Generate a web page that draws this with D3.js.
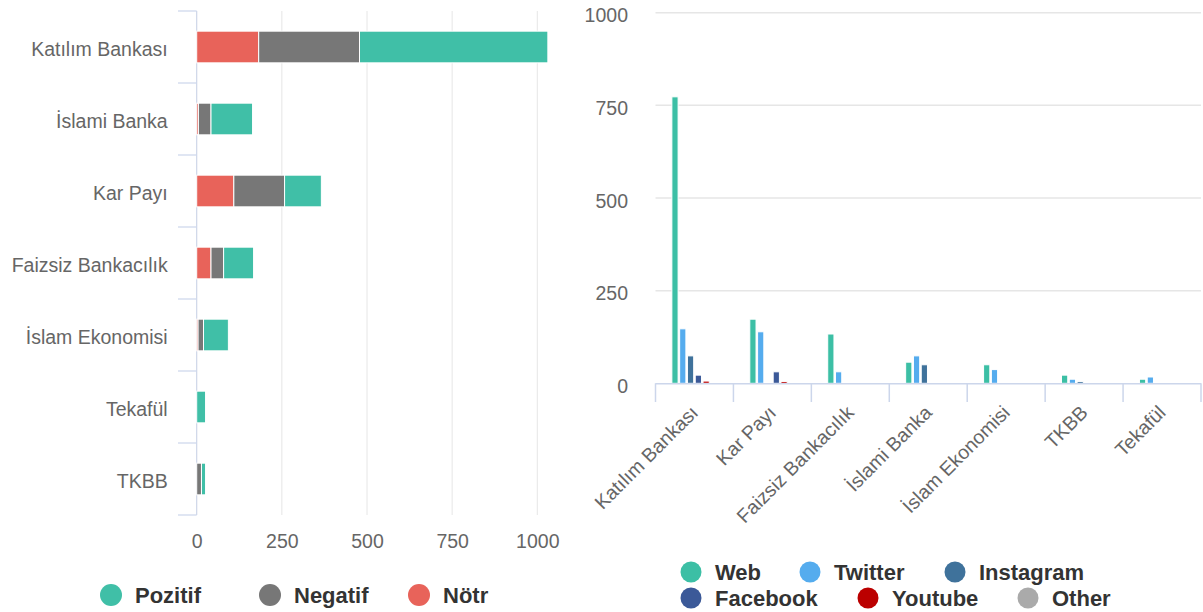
<!DOCTYPE html>
<html>
<head>
<meta charset="utf-8">
<script src="https://cdn.jsdelivr.net/npm/d3@7"></script>
<style>
  body{margin:0;background:#fff;}
  svg{display:block;font-family:"Liberation Sans",Arial,sans-serif;}
</style>
</head>
<body>
<svg id="chart" width="1203" height="612"></svg>
<script>
// left chart: sentiment per keyword
var leftCats = ["Katılım Bankası","İslami Banka","Kar Payı","Faizsiz Bankacılık","İslam Ekonomisi","Tekafül","TKBB"];
var pozitif = [553,122,108,88,73,26,12];
var negatif = [296,37,149,37,16,0,14];
var notr    = [182,5,109,42,4,0,0];
var leftTicks = [0,250,500,750,1000];

// right chart: source per keyword
var rightCats = ["Katılım Bankası","Kar Payı","Faizsiz Bankacılık","İslami Banka","İslam Ekonomisi","TKBB","Tekafül"];
var web       = [773,173,133,57,50,22,11];
var twitter   = [147,139,31,74,37,11,17];
var instagram = [74,0,0,50,0,5,0];
var facebook  = [22,31,0,0,0,0,0];
var youtube   = [6,5,0,0,0,0,0];
var other     = [0,0,0,0,0,0,0];
var rightTicks = [0,250,500,750,1000];

var svg = d3.select("#chart");
var gridCol = "#e6e6e6", axisCol = "#ccd6eb", labCol = "#666666";
var fsAxis = "19.5px", fsLeg = "22px";
var fmt = d3.format("d");

//---------------- left chart ----------------
var L = svg.append("g");
var lx = d3.scaleLinear().domain([0,1000]).range([196.7,537.3]);
var ly = d3.scaleBand().domain(leftCats).range([11,515]).paddingInner(0.56).paddingOuter(0.28);
var step = ly.step();

// vertical grid
L.selectAll("line.grid").data(leftTicks).enter().append("line")
  .attr("x1",function(d){return lx(d)}).attr("x2",function(d){return lx(d)})
  .attr("y1",11).attr("y2",515)
  .attr("stroke",gridCol).attr("stroke-width",1);

// value axis labels
var lxa = d3.axisBottom(lx).tickValues(leftTicks).tickFormat(fmt).tickSize(0).tickPadding(0);
L.append("g").attr("transform","translate(0,548)").call(lxa)
  .call(function(g){g.select(".domain").remove();})
  .selectAll("text").style("font-size",fsAxis).attr("fill",labCol).attr("dy","0");

// category axis
var lya = d3.axisLeft(ly).tickSize(0).tickPadding(29);
L.append("g").attr("transform","translate(196.7,3)").call(lya)
  .call(function(g){g.select(".domain").remove();})
  .selectAll("text").style("font-size",fsAxis).attr("fill",labCol);
L.append("line").attr("x1",196.7).attr("x2",196.7).attr("y1",11).attr("y2",515)
  .attr("stroke",axisCol).attr("stroke-width",1);
L.selectAll("line.ctick").data(d3.range(leftCats.length+1)).enter().append("line")
  .attr("x1",178).attr("x2",196.7)
  .attr("y1",function(i){return 11+i*step}).attr("y2",function(i){return 11+i*step})
  .attr("stroke",axisCol).attr("stroke-width",1.2);

// stacked bars (Nötr nearest zero)
var leftSeries = [
  {name:"Nötr", vals:notr, col:"#e8635a"},
  {name:"Negatif", vals:negatif, col:"#777777"},
  {name:"Pozitif", vals:pozitif, col:"#40bfa7"}
];
leftCats.forEach(function(c,i){
  var acc = 0;
  leftSeries.forEach(function(s){
    var v = s.vals[i];
    if(v>0){
      L.append("rect")
        .attr("x",lx(acc)).attr("width",lx(acc+v)-lx(acc))
        .attr("y",ly(c)).attr("height",ly.bandwidth())
        .attr("fill",s.col).attr("stroke","#fff").attr("stroke-width",1);
    }
    acc += v;
  });
});

// left legend
var leftLegend = [
  {name:"Pozitif", col:"#40bfa7", x:111},
  {name:"Negatif", col:"#777777", x:270},
  {name:"Nötr", col:"#e8635a", x:419}
];
var ll = L.selectAll("g.leg").data(leftLegend).enter().append("g")
  .attr("transform",function(d){return "translate("+d.x+",595)"});
ll.append("circle").attr("r",11).attr("fill",function(d){return d.col});
ll.append("text").attr("x",24).attr("dy","0.35em").text(function(d){return d.name})
  .style("font-size",fsLeg).style("font-weight","bold").attr("fill","#333");

//---------------- right chart ----------------
var R = svg.append("g");
var ry = d3.scaleLinear().domain([0,1000]).range([383.3,12.7]);
var rx = d3.scaleBand().domain(rightCats).range([655.5,1201]);
var rightSeries = [
  {name:"Web", vals:web, col:"#3cbfa5"},
  {name:"Twitter", vals:twitter, col:"#55acee"},
  {name:"Instagram", vals:instagram, col:"#3f729b"},
  {name:"Facebook", vals:facebook, col:"#3b5998"},
  {name:"Youtube", vals:youtube, col:"#bb0000"},
  {name:"Other", vals:other, col:"#aaaaaa"}
];
// groupPadding 0.2 of the band on each side, pointPadding 0.1 of each slot
var inner = d3.scaleBand().domain(rightSeries.map(function(s){return s.name}))
  .range([rx.bandwidth()*0.2, rx.bandwidth()*0.8]);
var slotW = inner.bandwidth();

// horizontal grid
R.selectAll("line.grid").data(rightTicks.filter(function(d){return d>0})).enter().append("line")
  .attr("x1",655.5).attr("x2",1201)
  .attr("y1",function(d){return ry(d)}).attr("y2",function(d){return ry(d)})
  .attr("stroke",gridCol).attr("stroke-width",1.5);

// y labels
var rya = d3.axisLeft(ry).tickValues(rightTicks).tickFormat(fmt).tickSize(0).tickPadding(0);
R.append("g").attr("transform","translate(628,3)").call(rya)
  .call(function(g){g.select(".domain").remove();})
  .selectAll("text").style("font-size",fsAxis).attr("fill",labCol);

// bars
rightSeries.forEach(function(s){
  R.selectAll(null).data(rightCats).enter().append("rect")
    .attr("x",function(c){return rx(c)+inner(s.name)+slotW*0.1})
    .attr("width",slotW*0.8)
    .attr("y",function(c,i){return ry(s.vals[i])})
    .attr("height",function(c,i){return ry(0)-ry(s.vals[i])})
    .attr("fill",s.col).attr("stroke","#fff").attr("stroke-width",1);
});

// x axis
R.append("line").attr("x1",655.5).attr("x2",1201).attr("y1",383.8).attr("y2",383.8)
  .attr("stroke",axisCol).attr("stroke-width",1.5);
R.selectAll("line.xtick").data(d3.range(rightCats.length+1)).enter().append("line")
  .attr("x1",function(i){return 655.5+i*rx.step()}).attr("x2",function(i){return 655.5+i*rx.step()})
  .attr("y1",383.3).attr("y2",402)
  .attr("stroke",axisCol).attr("stroke-width",1.5);
var rxa = d3.axisBottom(rx).tickSize(0).tickPadding(0);
R.append("g").call(rxa)
  .call(function(g){g.select(".domain").remove();})
  .selectAll(".tick").attr("transform",function(c){return "translate("+(rx(c)+rx.bandwidth()/2)+",409)"})
  .select("text").attr("y",0).attr("dy","0.35em")
  .attr("text-anchor","end").attr("transform","rotate(-45)")
  .style("font-size",fsAxis).attr("fill",labCol);

// right legend
var rightLegend = [
  {name:"Web", x:691, y:572},
  {name:"Twitter", x:810, y:572},
  {name:"Instagram", x:955, y:572},
  {name:"Facebook", x:691, y:598},
  {name:"Youtube", x:868, y:598},
  {name:"Other", x:1028, y:598}
];
var rl = R.selectAll("g.leg").data(rightLegend).enter().append("g")
  .attr("transform",function(d){return "translate("+d.x+","+d.y+")"});
rl.append("circle").attr("r",10.5).attr("fill",function(d){
  return rightSeries.filter(function(s){return s.name==d.name})[0].col;
});
rl.append("text").attr("x",24).attr("dy","0.35em").text(function(d){return d.name})
  .style("font-size",fsLeg).style("font-weight","bold").attr("fill","#333");
</script>
</body>
</html>
